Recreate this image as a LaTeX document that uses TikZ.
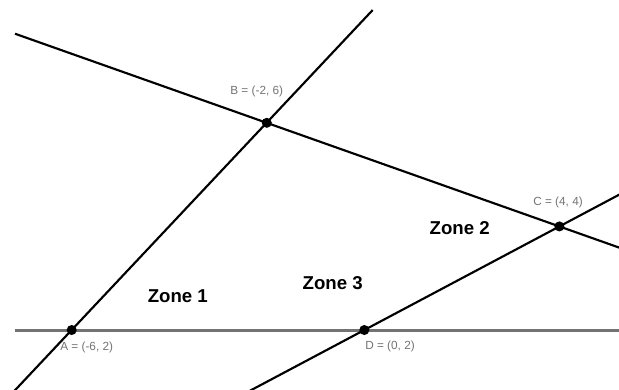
\documentclass[tikz,border=0pt]{standalone}
\usepackage{fontspec}
\setmainfont{Liberation Sans}
\begin{document}
\begin{tikzpicture}[x=0.8cm, y=0.8497cm,
    dot/.style={circle, fill=black, inner sep=0pt, minimum size=4.7pt},
    ptlabel/.style={text=black!55, font=\fontsize{5.5}{6}\selectfont, inner sep=0pt},
    zonelabel/.style={font=\fontsize{8.7}{10}\selectfont\bfseries, inner sep=0pt}]
    \clip (-7.47,0.861) rectangle (5.222,8.371);
    % Punti
    \coordinate (A) at (-6,2);
    \coordinate (B) at (-2,6);
    \coordinate (C) at (4,4);
    \coordinate (D) at (0,2);
    % Estremi delle rette
    \coordinate (h1) at (-7.16,2);
    \coordinate (h2) at (5.4,2);
    \coordinate (ab1) at (-7.2,0.8);
    \coordinate (ab2) at (0.172,8.178);
    \coordinate (bc1) at (-7.162,7.72);
    \coordinate (bc2) at (5.4,3.533);
    \coordinate (dc1) at (-2.4,0.8);
    \coordinate (dc2) at (5.4,4.7);
    
    % Rette
    \draw[black!55, line width=1.4pt] (h1) -- (h2);
    \draw[line width=1pt] (ab1) -- (ab2);
    \draw[line width=1pt] (bc1) -- (bc2);
    \draw[line width=1pt] (dc1) -- (dc2);
    \node[dot] (pA) at (A) {};
    \node[dot] (pB) at (B) {};
    \node[dot] (pC) at (C) {};
    \node[dot] (pD) at (D) {};
    
    % Etichette
    \node[ptlabel] (lA) at (-5.692,1.658) {A = (-6, 2)};
    \node[ptlabel] (lB) at (-2.206,6.60) {B = (-2, 6)};
    \node[ptlabel] (lC) at (3.972,4.458) {C = (4, 4)};
    \node[ptlabel] (lD) at (0.527,1.678) {D = (0, 2)};
    
    \node[zonelabel] (z1) at (-3.824,2.656) {Zone 1};
    \node[zonelabel] (z2) at (1.955,3.975) {Zone 2};
    \node[zonelabel] (z3) at (-0.648,2.90) {Zone 3};
\end{tikzpicture}
\end{document}
